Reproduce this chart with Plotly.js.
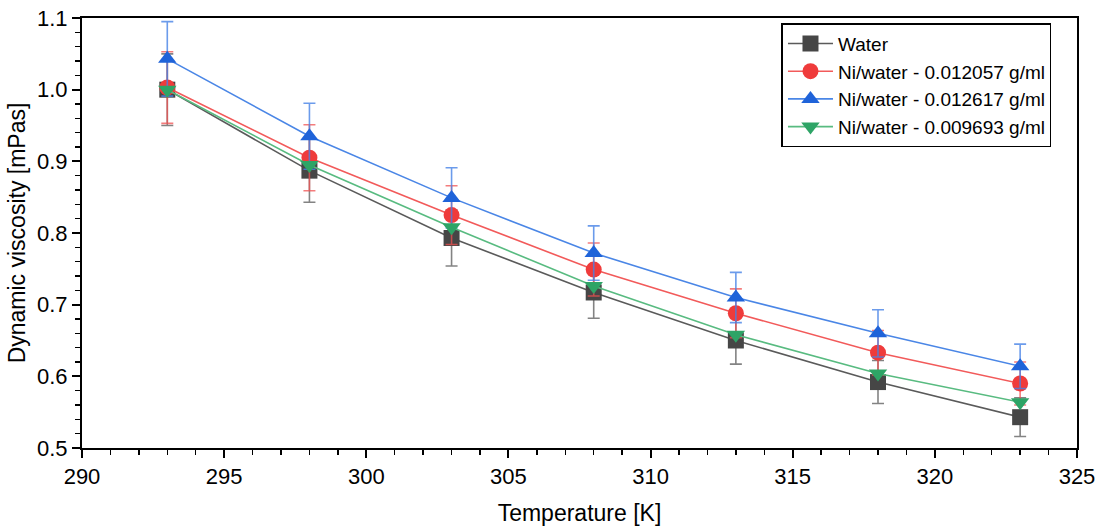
<!DOCTYPE html>
<html>
<head>
<meta charset="utf-8">
<script src="https://cdn.plot.ly/plotly-3.0.1.min.js"></script>
<style>
  html, body { margin: 0; padding: 0; background: #fff; }
  #chart { width: 1103px; height: 532px; }
</style>
</head>
<body>
<div id="chart"></div>
<script>
// Temperatura [K] y viscosidad dinámica [mPas]
const temperature = [293, 298, 303, 308, 313, 318, 323];

const waterVisc  = [1.000, 0.887, 0.793, 0.717, 0.650, 0.592, 0.543];
const waterErr   = [0.050, 0.044, 0.039, 0.036, 0.033, 0.030, 0.027];

const ni1Visc    = [1.003, 0.905, 0.825, 0.749, 0.688, 0.633, 0.590];
const ni1Err     = [0.050, 0.046, 0.041, 0.037, 0.034, 0.031, 0.030];

const ni2Visc    = [1.043, 0.935, 0.849, 0.772, 0.710, 0.660, 0.614];
const ni2Err     = [0.052, 0.046, 0.042, 0.038, 0.035, 0.033, 0.031];

const ni3Visc    = [1.000, 0.895, 0.808, 0.726, 0.658, 0.604, 0.564];

const seriesNames = [
  'Water',
  'Ni/water - 0.012057 g/ml',
  'Ni/water - 0.012617 g/ml',
  'Ni/water - 0.009693 g/ml'
];

const font = 'Liberation Sans, Arial, sans-serif';

const mkTrace = (name, y, err, symbol, markerColor, lineColor, errColor) => ({
  x: temperature,
  y: y,
  name: name,
  type: 'scatter',
  mode: 'lines+markers',
  line: { color: lineColor, width: 1.6 },
  marker: { symbol: symbol, size: 16, color: markerColor, line: { width: 0 } },
  error_y: err ? { type: 'data', array: err, visible: true, color: errColor, thickness: 1.6, width: 6 }
              : { visible: false }
});

const data = [
  mkTrace(seriesNames[0], waterVisc, waterErr, 'square', '#464646', '#5a5a5a', 'rgba(90,90,90,0.75)'),
  mkTrace(seriesNames[1], ni1Visc, ni1Err, 'circle', '#ef3b3b', '#f25a5a', 'rgba(240,80,80,0.75)'),
  mkTrace(seriesNames[2], ni2Visc, ni2Err, 'triangle-up', '#1f63d9', '#4a86e6', 'rgba(70,130,230,0.8)'),
  mkTrace(seriesNames[3], ni3Visc, null, 'triangle-down', '#2ea466', '#58bb80', null)
];

const axisCommon = {
  showline: true,
  linecolor: '#000',
  linewidth: 2,
  mirror: true,
  ticks: 'outside',
  ticklen: 8,
  tickwidth: 2,
  tickcolor: '#000',
  showgrid: false,
  zeroline: false,
  tickfont: { family: font, size: 22, color: '#000' }
};

const layout = {
  width: 1103,
  height: 532,
  paper_bgcolor: '#fff',
  plot_bgcolor: '#fff',
  margin: { l: 82, r: 26, t: 18, b: 84 },
  showlegend: true,
  xaxis: Object.assign({}, axisCommon, {
    range: [290, 325],
    dtick: 5,
    tick0: 290,
    minor: { dtick: 1, ticks: 'outside', ticklen: 5, tickwidth: 1.5, tickcolor: '#000' },
    title: { text: 'Temperature [K]', font: { family: font, size: 23, color: '#000' }, standoff: 16 }
  }),
  yaxis: Object.assign({}, axisCommon, {
    range: [0.5, 1.1],
    dtick: 0.1,
    tick0: 0.5,
    tickformat: '.1f',
    minor: { dtick: 0.02, ticks: 'outside', ticklen: 5, tickwidth: 1.5, tickcolor: '#000' },
    title: { text: 'Dynamic viscosity [mPas]', font: { family: font, size: 23, color: '#000' }, standoff: 5 }
  }),
  legend: {
    x: 0.703, y: 0.988,
    xanchor: 'left', yanchor: 'top',
    bgcolor: '#fff',
    bordercolor: '#000',
    borderwidth: 1.5,
    font: { family: font, size: 19, color: '#000' },
    tracegroupgap: 0,
    itemwidth: 45
  }
};

Plotly.newPlot('chart', data, layout, { displayModeBar: false, staticPlot: true });
</script>
</body>
</html>
